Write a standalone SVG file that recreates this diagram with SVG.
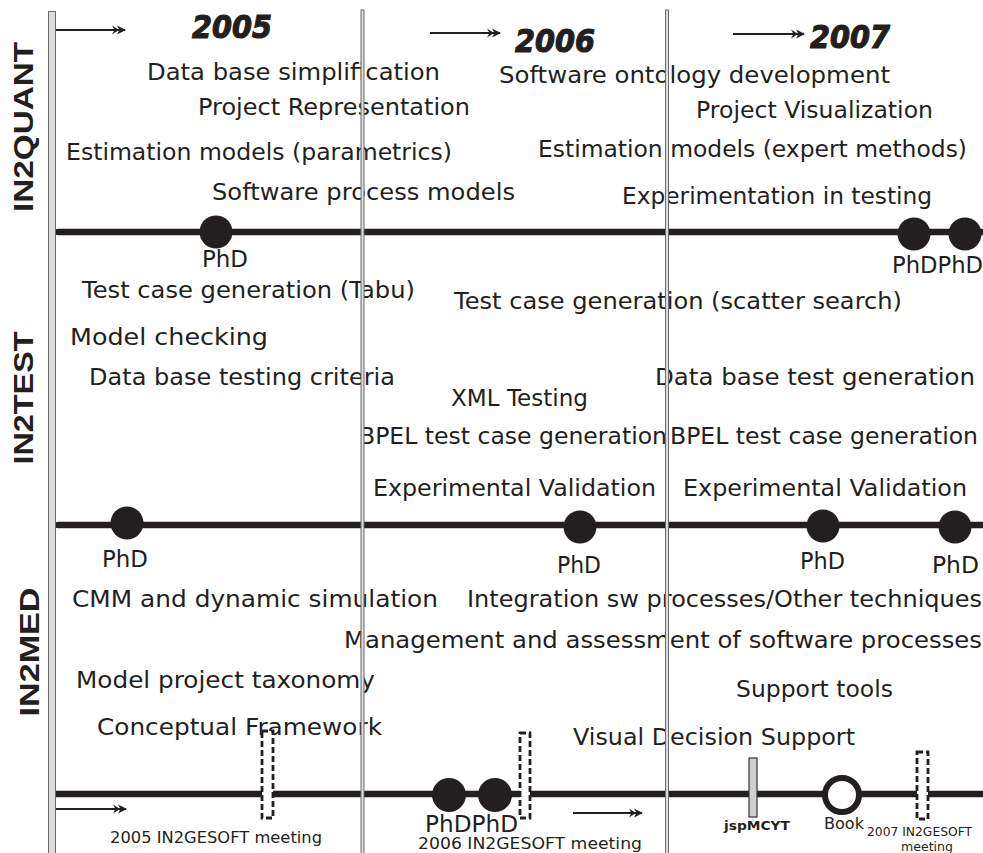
<svg xmlns="http://www.w3.org/2000/svg" width="983" height="853" viewBox="0 0 983 853">
<defs>
<style>
.t{font-family:"DejaVu Sans","Liberation Sans",sans-serif;font-size:23px;fill:#231f20}
.s{font-family:"DejaVu Sans","Liberation Sans",sans-serif;font-size:15px;fill:#231f20}
.xs{font-family:"DejaVu Sans","Liberation Sans",sans-serif;font-size:11.5px;fill:#231f20}
.yr{font-family:"DejaVu Sans","Liberation Sans",sans-serif;font-size:32px;font-weight:bold;font-style:italic;fill:#231f20;stroke:#231f20;stroke-width:1.2}
.lane{font-family:"Liberation Sans","DejaVu Sans",sans-serif;font-size:28px;font-weight:bold;fill:#231f20}
.tl{stroke:#231f20;stroke-width:6.5;fill:none;stroke-linecap:round}
.ar{stroke:#231f20;stroke-width:2.2;fill:none;marker-end:url(#dh)}
.dot{fill:#231f20}
.meet{fill:#fff;stroke:#231f20;stroke-width:2.8;stroke-dasharray:6 3}
.vl{fill:#dcdcdc;stroke:#6a6a6a;stroke-width:1}
</style>
<marker id="dh" viewBox="0 0 14 10" refX="13" refY="5" markerWidth="14" markerHeight="10" markerUnits="userSpaceOnUse" orient="auto">
<path d="M0,0.5 L7,5 L0,9.5 L2.5,5 Z M5,0.5 L14,5 L5,9.5 L7.5,5 Z" fill="#231f20"/>
</marker>
</defs>
<rect width="983" height="853" fill="#fff"/>

<g id="connectors">
<path class="tl" d="M58,232 H983"/>
<path class="tl" d="M58,525 H983"/>
<path class="tl" d="M56,794 H983"/>
<path class="ar" d="M54,30 H125"/>
<path class="ar" d="M430,33 H500"/>
<path class="ar" d="M733,34 H804"/>
<path class="ar" d="M55,809 H126"/>
<path class="ar" d="M573,813 H642"/>
</g>

<g id="lanes">
<text class="lane" transform="translate(33,127) rotate(-90)" text-anchor="middle" textLength="170" lengthAdjust="spacingAndGlyphs">IN2QUANT</text>
<text class="lane" transform="translate(33,398) rotate(-90)" text-anchor="middle" textLength="133" lengthAdjust="spacingAndGlyphs">IN2TEST</text>
<text class="lane" transform="translate(39,652) rotate(-90)" text-anchor="middle" textLength="129" lengthAdjust="spacingAndGlyphs">IN2MED</text>
</g>

<g id="years">
<text class="yr" x="192" y="38" textLength="80" lengthAdjust="spacingAndGlyphs">2005</text>
<text class="yr" x="515" y="52" textLength="80" lengthAdjust="spacingAndGlyphs">2006</text>
<text class="yr" x="810" y="48" textLength="80" lengthAdjust="spacingAndGlyphs">2007</text>
</g>

<g id="in2quant">
<text class="t" x="147" y="80" textLength="293" lengthAdjust="spacingAndGlyphs">Data base simplification</text>
<text class="t" x="198" y="115" textLength="272" lengthAdjust="spacingAndGlyphs">Project Representation</text>
<text class="t" x="66" y="160" textLength="386" lengthAdjust="spacingAndGlyphs">Estimation models (parametrics)</text>
<text class="t" x="212" y="200" textLength="303" lengthAdjust="spacingAndGlyphs">Software process models</text>
<text class="t" x="499" y="83" textLength="391" lengthAdjust="spacingAndGlyphs">Software ontology development</text>
<text class="t" x="696" y="118" textLength="237" lengthAdjust="spacingAndGlyphs">Project Visualization</text>
<text class="t" x="538" y="157" textLength="429" lengthAdjust="spacingAndGlyphs">Estimation models (expert methods)</text>
<text class="t" x="622" y="204" textLength="310" lengthAdjust="spacingAndGlyphs">Experimentation in testing</text>
</g>

<g id="in2quant-phd">
<circle class="dot" cx="216" cy="232" r="16.5"/>
<circle class="dot" cx="914" cy="234" r="16.5"/>
<circle class="dot" cx="965" cy="234" r="16.5"/>
<text class="t" x="202" y="267" textLength="46" lengthAdjust="spacingAndGlyphs">PhD</text>
<text class="t" x="892" y="273" textLength="91" lengthAdjust="spacingAndGlyphs">PhDPhD</text>
</g>

<g id="in2test">
<text class="t" x="82" y="298" textLength="333" lengthAdjust="spacingAndGlyphs">Test case generation (Tabu)</text>
<text class="t" x="454" y="309" textLength="448" lengthAdjust="spacingAndGlyphs">Test case generation (scatter search)</text>
<text class="t" x="70" y="345" textLength="198" lengthAdjust="spacingAndGlyphs">Model checking</text>
<text class="t" x="89" y="385" textLength="306" lengthAdjust="spacingAndGlyphs">Data base testing criteria</text>
<text class="t" x="451" y="406" textLength="137" lengthAdjust="spacingAndGlyphs">XML Testing</text>
<text class="t" x="655" y="385" textLength="320" lengthAdjust="spacingAndGlyphs">Data base test generation</text>
<text class="t" x="359" y="444" textLength="308" lengthAdjust="spacingAndGlyphs">BPEL test case generation</text>
<text class="t" x="670" y="444" textLength="308" lengthAdjust="spacingAndGlyphs">BPEL test case generation</text>
<text class="t" x="373" y="496" textLength="283" lengthAdjust="spacingAndGlyphs">Experimental Validation</text>
<text class="t" x="683" y="496" textLength="284" lengthAdjust="spacingAndGlyphs">Experimental Validation</text>
</g>

<g id="in2test-phd">
<circle class="dot" cx="127" cy="523" r="16.5"/>
<circle class="dot" cx="580" cy="527" r="16.5"/>
<circle class="dot" cx="823" cy="526" r="16.5"/>
<circle class="dot" cx="955" cy="527" r="16.5"/>
<text class="t" x="102" y="567" textLength="46" lengthAdjust="spacingAndGlyphs">PhD</text>
<text class="t" x="557" y="573" textLength="44" lengthAdjust="spacingAndGlyphs">PhD</text>
<text class="t" x="800" y="569" textLength="45" lengthAdjust="spacingAndGlyphs">PhD</text>
<text class="t" x="932" y="573" textLength="47" lengthAdjust="spacingAndGlyphs">PhD</text>
</g>

<g id="in2med">
<text class="t" x="72" y="607" textLength="366" lengthAdjust="spacingAndGlyphs">CMM and dynamic simulation</text>
<text class="t" x="467" y="607" textLength="515" lengthAdjust="spacingAndGlyphs">Integration sw processes/Other techniques</text>
<text class="t" x="344" y="648" textLength="638" lengthAdjust="spacingAndGlyphs">Management and assessment of software processes</text>
<text class="t" x="76" y="688" textLength="299" lengthAdjust="spacingAndGlyphs">Model project taxonomy</text>
<text class="t" x="736" y="697" textLength="157" lengthAdjust="spacingAndGlyphs">Support tools</text>
<text class="t" x="97" y="735" textLength="285" lengthAdjust="spacingAndGlyphs">Conceptual Framework</text>
<text class="t" x="573" y="745" textLength="282" lengthAdjust="spacingAndGlyphs">Visual Decision Support</text>
</g>

<g id="in2med-milestones">
<circle class="dot" cx="449" cy="795" r="17"/>
<circle class="dot" cx="495" cy="795" r="17"/>
<text class="t" x="425" y="832" textLength="93" lengthAdjust="spacingAndGlyphs">PhDPhD</text>
<rect x="749" y="758" width="8" height="59" fill="#cfcfcf" stroke="#333" stroke-width="1.2"/>
<text class="xs" x="724" y="830" font-size="12" font-weight="bold" textLength="66" lengthAdjust="spacingAndGlyphs">jspMCYT</text>
<circle cx="842" cy="795" r="17" fill="#fff" stroke="#231f20" stroke-width="6"/>
<text class="s" x="824" y="829" font-size="16" textLength="40" lengthAdjust="spacingAndGlyphs">Book</text>
</g>

<g id="meetings">
<rect class="meet" x="262" y="731" width="11" height="87"/>
<text class="s" x="110" y="843" textLength="212" lengthAdjust="spacingAndGlyphs">2005 IN2GESOFT meeting</text>
<rect class="meet" x="520" y="733" width="10" height="85"/>
<text class="s" x="418" y="849" textLength="224" lengthAdjust="spacingAndGlyphs">2006 IN2GESOFT meeting</text>
<rect class="meet" x="917" y="752" width="11" height="67"/>
<text class="xs" x="867" y="836" textLength="105" lengthAdjust="spacingAndGlyphs">2007 IN2GESOFT</text>
<text class="xs" x="901" y="851" textLength="52" lengthAdjust="spacingAndGlyphs">meeting</text>
</g>

<g id="dividers">
<rect class="vl" x="48.5" y="11.5" width="7" height="845" fill="#d4d4d4" stroke="#444"/>
<rect class="vl" x="361" y="10" width="3" height="845"/>
<rect class="vl" x="665.5" y="10" width="3" height="845"/>
</g>
</svg>
